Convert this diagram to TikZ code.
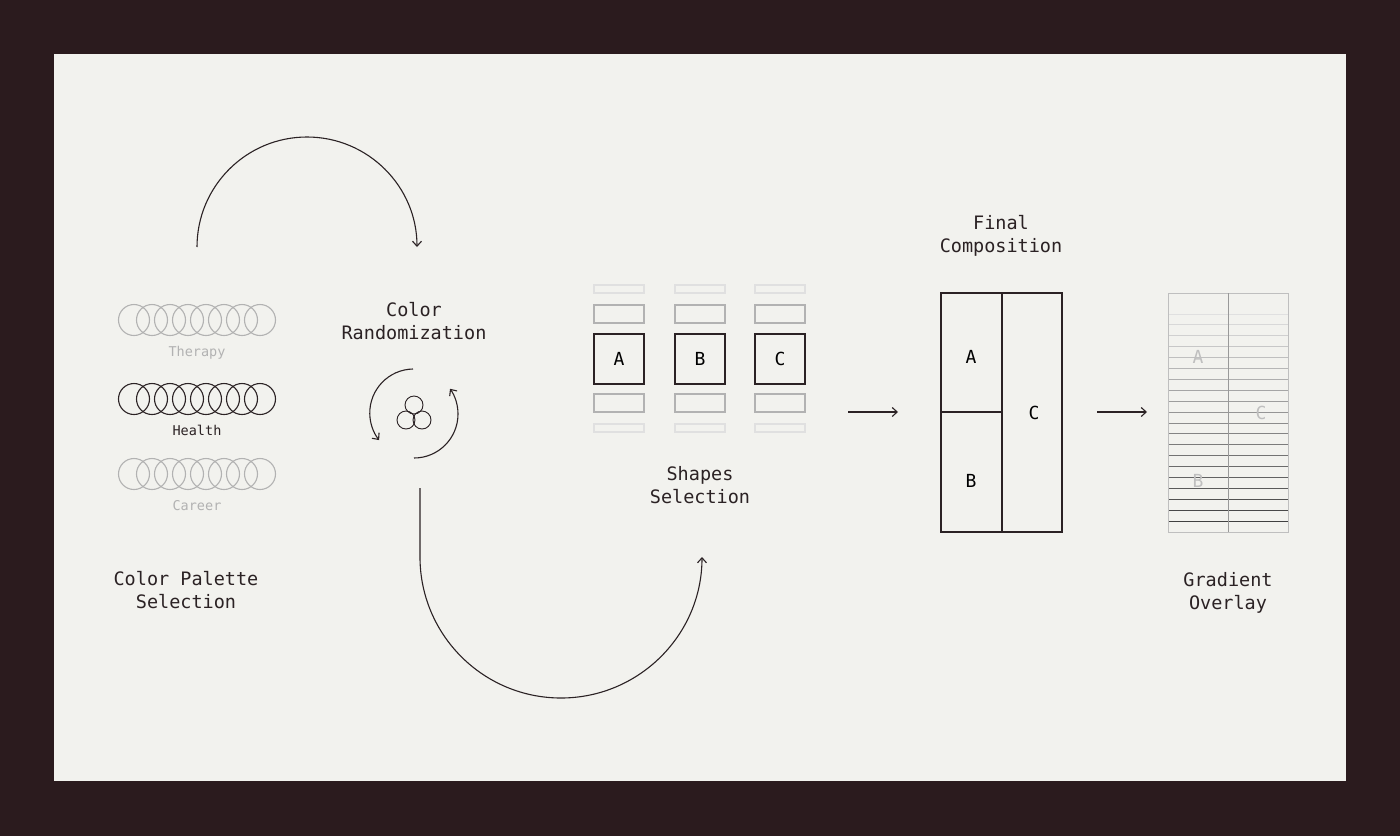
\documentclass[tikz,border=0pt]{standalone}
\usepackage{fontspec}
\setmonofont{DejaVu Sans Mono}
\usetikzlibrary{arrows.meta,positioning}
\definecolor{frame}{HTML}{2B1B1E}
\definecolor{paper}{HTML}{F2F2EE}
\definecolor{ink}{HTML}{2B2224}
\begin{document}
\begin{tikzpicture}
[x=1pt, y=-1pt, font=\ttfamily, line width=1.1pt,
% STYLES
% The title style is used for the step names
title/.style={align=center, font=\ttfamily\fontsize{18.5}{23}\selectfont, text=ink, inner sep=0pt},
% The tag style is used for the palette names
tag/.style={font=\ttfamily\fontsize{13.5}{15}\selectfont, inner sep=0pt},
% The dot style is used for the palette circles
dot/.style={circle, draw, minimum size=31pt, inner sep=0pt},
% The bar style is used for the shape slots
bar/.style={rectangle, draw, minimum width=50pt, inner sep=0pt},
% The letter style is used for the boxes' letters
letter/.style={font=\ttfamily\fontsize{18}{20}\selectfont, inner sep=0pt},
flow/.style={draw=ink, -{Straight Barb[length=5pt,width=9pt]}}]

% Draw background
\fill[frame] (0,0) rectangle (1400,836);
\fill[paper] (54,54) rectangle (1346,781);

%%%%%%%%%%%%%%%
% Color palettes
\foreach \y/\c/\n/\t in {320/black!30/ther/Therapy, 399/ink/heal/Health, 474/black!30/care/Career} {
  \foreach \i in {0,...,7}
    \node [dot, draw=\c] (\n-\i) at (134+18*\i,\y) {};
  \node [tag, text=\c, below=10pt of \n-3.south, xshift=9pt] (tag-\n) {\t};
}
\node [title, anchor=north] (palette) at (186,571) {Color Palette\\ Selection};

% Randomization
\node [title, anchor=north] (random) at (414,302) {Color\\Randomization};
\coordinate (mix) at (414,413);
\foreach \p in {(414,405),(406,420),(422,420)}
  \draw[ink, line width=0.9pt] \p circle (9);
\draw[flow] (413,369) arc (-91:-218:44);
\draw[flow] (414,458) arc (90:-35:44);

% Shapes
\foreach \x/\l in {619/A, 700/B, 780/C} {
  \node [bar, draw=black!12, minimum height=8pt] (top-\l) at (\x,289) {};
  \node [bar, draw=black!30, minimum height=18pt] (up-\l) at (\x,314) {};
  \node [bar, draw=ink, minimum height=50pt, letter] (box-\l) at (\x,359) {\l};
  \node [bar, draw=black!30, minimum height=18pt] (low-\l) at (\x,403) {};
  \node [bar, draw=black!12, minimum height=8pt] (bot-\l) at (\x,428) {};
}
\node [title, anchor=north] (shapes) at (700,466) {Shapes\\Selection};

% Final composition
\node [title, anchor=north] (final) at (1001,215) {Final\\Composition};
\draw[ink] (941,293) rectangle (1062,532);
\draw[ink] (1002,293) -- (1002,532) (941,412) -- (1002,412);
\node [letter] (fa) at (971,357) {A};
\node [letter] (fb) at (971,481) {B};
\node [letter] (fc) at (1034,413) {C};

% Gradient overlay
\foreach \k in {0,...,20} {
  \pgfmathsetmacro{\g}{12+66*\k/20}
  \draw[black!\g, line width=1pt] (1168,{314+10.9*\k}) -- (1288,{314+10.9*\k});
}
\draw[black!25, line width=1pt] (1168,293) rectangle (1288,532);
\draw[black!40, line width=1pt] (1228,293) -- (1228,532);
\node [letter, text=black!25] (ga) at (1198,357) {A};
\node [letter, text=black!25] (gb) at (1198,481) {B};
\node [letter, text=black!25] (gc) at (1261,413) {C};
\node [title, anchor=north] (gradient) at (1228,572) {Gradient\\Overlay};

%%%%%%%%%%%%%%%%
% Draw the links between steps
\draw[flow] (197,247) arc (180:360:110);
\draw[flow] (420,488) -- (420,557) arc (180:0:141);
\coordinate (a1) at (848,412);
\coordinate (a2) at (898,412);
\coordinate (b1) at (1097,412);
\coordinate (b2) at (1147,412);
\draw[flow] (a1) -- (a2);
\draw[flow] (b1) -- (b2);

\end{tikzpicture}
\end{document}
